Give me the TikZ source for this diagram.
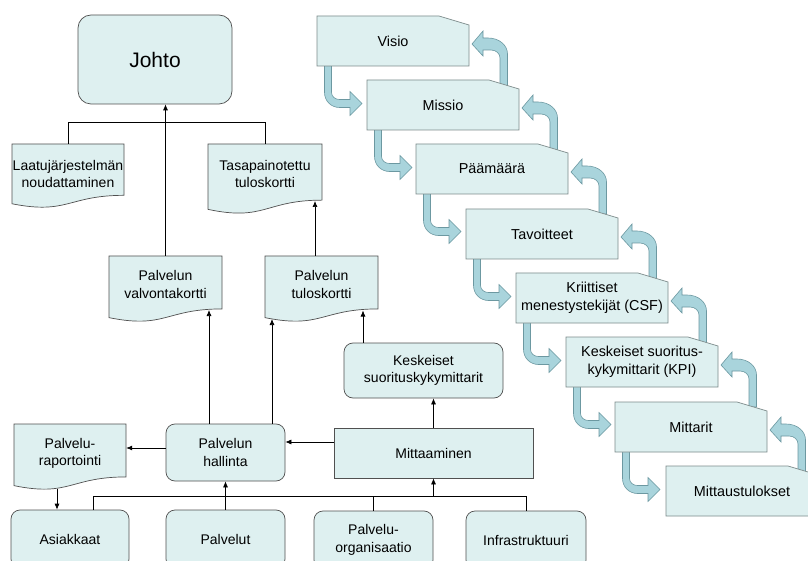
\documentclass[tikz,border=0pt]{standalone}
\usepackage{fontspec}
\setmainfont{Liberation Sans}
\usetikzlibrary{arrows.meta}

\definecolor{boxfill}{HTML}{DEF0F0}
\definecolor{boxline}{HTML}{505050}
\definecolor{snipline}{HTML}{7D8B8B}
\definecolor{blkfill}{HTML}{A9D4DC}
\definecolor{blkline}{HTML}{6C98A1}

\newcommand\fsn{\fontsize{14}{17.5}\selectfont}
\newcommand\fsr{\fontsize{14.4}{17.5}\selectfont}

% flowchart "document" box: name, x0, y0, width, height, text-centre offset, text
\newcommand\docbox[7]{%
  \path[docshape] (#2,#3) -- (#2+#4,#3) -- (#2+#4,#3+0.802*#5)
    .. controls (#2+0.5*#4,#3+0.802*#5) and (#2+0.5*#4,#3+1.107*#5) .. (#2,#3+0.934*#5) -- cycle;
  \node[doctext, minimum width=#4pt, minimum height=2*#6pt] (#1) at (#2+0.5*#4,#3+#6) {#7};
}

% box with the upper right corner cut off: name, x0, y0, text
\newcommand\snipbox[4]{%
  \path[snipshape] (#2,#3) -- (#2+122,#3) -- (#2+152,#3+9) -- (#2+152,#3+50) -- (#2,#3+50) -- cycle;
  \node[sniptext] (#1) at (#2+76,#3+25) {#4};
}

% bent block arrow from below a box, turning right into the next one
\newcommand\blkdown[2]{%
  \path[blk] (#1+7.5,#2+48) -- (#1+14.5,#2+48) -- (#1+14.5,#2+76.5)
    .. controls (#1+14.5,#2+80.5) and (#1+18.1,#2+83.5) .. (#1+22.5,#2+83.5)
    -- (#1+33,#2+83.5) -- (#1+33,#2+75.5) -- (#1+45,#2+87.5) -- (#1+33,#2+99.5) -- (#1+33,#2+91.5)
    -- (#1+22.5,#2+91.5) .. controls (#1+14.2,#2+91.5) and (#1+7.5,#2+85) .. (#1+7.5,#2+76.5) -- cycle;
}

% bent block arrow rising from the next box, turning left into this one
\newcommand\blkup[2]{%
  \path[blk] (#1+183,#2+70) -- (#1+190.5,#2+70) -- (#1+190.5,#2+38)
    .. controls (#1+190.5,#2+29) and (#1+182,#2+22) .. (#1+171,#2+22)
    -- (#1+166,#2+22) -- (#1+166,#2+15) -- (#1+155,#2+28) -- (#1+166,#2+40) -- (#1+166,#2+34)
    -- (#1+174,#2+34) .. controls (#1+179,#2+34) and (#1+183,#2+37.5) .. (#1+183,#2+42) -- cycle;
}

\begin{document}
\begin{tikzpicture}[x=1pt,y=-1pt,
  rbox/.style={draw=boxline, fill=boxfill, line width=0.7pt, rounded corners=9pt,
    align=center, inner sep=0pt, font=\fsn},
  sbox/.style={draw=boxline, fill=boxfill, line width=0.7pt,
    align=center, inner sep=0pt, font=\fsn},
  docshape/.style={draw=boxline, fill=boxfill, line width=0.7pt},
  doctext/.style={inner sep=0pt, align=center, font=\fsn},
  snipshape/.style={draw=snipline, fill=boxfill, line width=0.7pt},
  sniptext/.style={inner sep=0pt, align=center, font=\fsr, minimum width=152pt, minimum height=50pt},
  blk/.style={draw=blkline, fill=blkfill, line width=0.6pt},
  link/.style={draw=black, line width=0.7pt},
  arr/.style={draw=black, line width=0.7pt, -{Latex[length=6pt,width=5pt]}}
]
\useasboundingbox (0,0) rectangle (808,561);
\clip (0,0) rectangle (808,561);
\fill[white] (0,0) rectangle (808,561);

% ---------- management structure ----------
\node[rbox, rounded corners=13pt, minimum width=154pt, minimum height=89pt,
  font=\fontsize{21}{24}\selectfont] (johto) at (155,59.5) {Johto};

\docbox{laatu}{12}{144}{112}{64}{30}{Laatujärjestelmän\\noudattaminen}
\docbox{tasa}{208}{144}{114}{70}{30}{Tasapainotettu\\tuloskortti}
\docbox{valv}{109}{256}{113}{66}{28.5}{Palvelun\\valvontakortti}
\docbox{tulos}{265}{256}{113}{66}{28.5}{Palvelun\\tuloskortti}
\docbox{rap}{14}{424}{112}{66}{29.5}{Palvelu-\\raportointi}

\node[rbox, minimum width=119pt, minimum height=57pt] (hall) at (225.5,452.5) {Palvelun\\hallinta};
\node[rbox, minimum width=159pt, minimum height=55pt] (ks) at (423.5,370.5) {Keskeiset\\suorituskykymittarit};
\node[sbox, minimum width=199pt, minimum height=50pt] (mitt) at (433.5,453) {Mittaaminen};

\node[rbox, minimum width=118pt, minimum height=58pt] (asi) at (70,539) {Asiakkaat};
\node[rbox, minimum width=119pt, minimum height=58pt] (palv) at (225.5,539) {Palvelut};
\node[rbox, minimum width=119pt, minimum height=58pt] (porg) at (373.5,540) {Palvelu-\\organisaatio};
\node[rbox, minimum width=120pt, minimum height=58pt] (infra) at (526,540) {Infrastruktuuri};

% end points on the wavy lower edges
\coordinate (tasaB) at (315,201);
\coordinate (valvB) at (209,310);
\coordinate (tulosB1) at (272,319);
\coordinate (tulosB2) at (363,310.5);
\coordinate (rapB) at (57,488.5);

% connectors
\draw[link] (laatu.north) -- ++(0,-21) -| (tasa.north);
\draw[arr] (valv.north) -- (valv.north |- johto.south);
\draw[arr] (tulos.north -| tasaB) -- (tasaB);
\draw[arr] (hall.north -| valvB) -- (valvB);
\draw[arr] (hall.north -| tulosB1) -- (tulosB1);
\draw[arr] (ks.north -| tulosB2) -- (tulosB2);
\draw[arr] (mitt.north) -- (mitt.north |- ks.south);
\path (mitt.west) ++(0,-11) coordinate (mh);
\draw[arr] (mh) -- (mh -| hall.east);
\path (hall.west) ++(0,-4.5) coordinate (hr);
\draw[arr] (hr) -- (hr -| rap.east);
\draw[arr] (rapB) -- (rapB |- asi.north);
\draw[arr] (palv.north) -- (hall.south);
\path (asi.north) ++(23,0) coordinate (asiT);
\draw[link] (asiT) -- ++(0,-13) coordinate (busL) -| (infra.north);
\draw[link] (porg.north) -- (porg.north |- busL);
\draw[arr] (mitt.south |- busL) -- (mitt.south);

% ---------- strategy chain ----------
\blkdown{317}{16}  \blkup{317}{16}
\blkdown{367}{80}  \blkup{367}{80}
\blkdown{416}{144} \blkup{416}{144}
\blkdown{466}{209} \blkup{466}{209}
\blkdown{516}{273} \blkup{516}{273}
\blkdown{566}{337} \blkup{566}{337}
\blkdown{615}{402} \blkup{615}{402}

\snipbox{visio}{317}{16}{Visio}
\snipbox{missio}{367}{80}{Missio}
\snipbox{paamaara}{416}{144}{Päämäärä}
\snipbox{tavoitteet}{466}{209}{Tavoitteet}
\snipbox{csf}{516}{273}{Kriittiset\\menestystekijät (CSF)}
\snipbox{kpi}{566}{337}{Keskeiset suoritus-\\kykymittarit (KPI)}
\snipbox{mittarit}{615}{402}{Mittarit}
\snipbox{tulokset}{666}{466}{Mittaustulokset}
\end{tikzpicture}
\end{document}
